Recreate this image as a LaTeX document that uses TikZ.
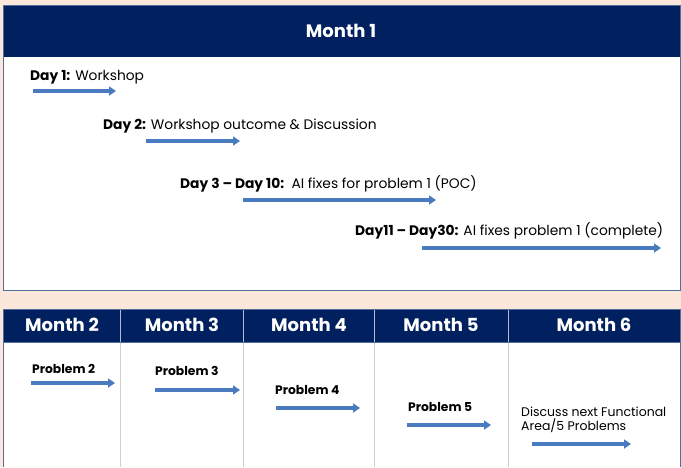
\documentclass[tikz,border=0pt]{standalone}
\usepackage{fontspec}
\setmainfont{Poppins}
\usetikzlibrary{arrows.meta}
\definecolor{peach}{HTML}{FCE8DA}
\definecolor{navy}{HTML}{00205F}
\definecolor{arrowblue}{HTML}{4A7BC0}
\definecolor{boxline}{HTML}{4F6FA0}
\definecolor{gridgray}{HTML}{D0D0D0}
\tikzset{
  x=1pt,y=-1pt,
  hdr/.style={fill=navy,draw=none},
  hdrtext/.style={text=white,font=\fontsize{18}{20}\selectfont\bfseries,anchor=center},
  daytext/.style={anchor=west,inner sep=0pt,font=\fontsize{13.8}{15}\selectfont},
  probtext/.style={anchor=west,inner sep=0pt,font=\fontsize{12.3}{14}\selectfont\bfseries},
  arr/.style={draw=arrowblue,line width=3.2pt,-{Triangle[length=7pt,width=9pt]}},
}
\begin{document}
\begin{tikzpicture}
\useasboundingbox (0,0) rectangle (681,467);
\fill[peach] (0,0) rectangle (681,467);
% top box
\fill[white] (3,5) rectangle (680,290);
\fill[hdr] (3,5) rectangle (680,57);
\draw[boxline,line width=0.8pt] (3,5) rectangle (680,290);
\node[hdrtext] (m1) at (341,31) {Month 1};
% day items
\node[daytext] (d1) at (30,77) {\textbf{Day 1:} Workshop};
\coordinate (d1s) at (33,91); \coordinate (d1e) at (116,91);
\draw[arr] (d1s) -- (d1e);
\node[daytext] (d2) at (103,126) {\textbf{Day 2:} Workshop outcome \& Discussion};
\coordinate (d2s) at (146,141); \coordinate (d2e) at (240,141);
\draw[arr] (d2s) -- (d2e);
\node[daytext] (d3) at (180,184) {\textbf{Day 3 – Day 10:}\ \ AI fixes for problem 1 (POC)};
\coordinate (d3s) at (243,200); \coordinate (d3e) at (436,200);
\draw[arr] (d3s) -- (d3e);
\node[daytext] (d4) at (355,231) {\textbf{Day11 – Day30:} AI fixes problem 1 (complete)};
\coordinate (d4s) at (422,248); \coordinate (d4e) at (661,248);
\draw[arr] (d4s) -- (d4e);
% bottom table
\fill[white] (3,309) rectangle (680,467);
\fill[hdr] (3,309) rectangle (680,342);
\foreach \xx in {120,243,374,508}{
  \draw[gridgray,line width=0.6pt] (\xx,342) -- (\xx,467);
  \draw[white!70!navy,line width=0.6pt] (\xx,309) -- (\xx,342);
}
\draw[boxline,line width=0.8pt] (3,467) -- (3,309) -- (680,309) -- (680,467);
\draw[boxline,line width=0.8pt] (3,342) -- (680,342);
\node[hdrtext] (m2) at (62,325) {Month 2};
\node[hdrtext] (m3) at (182,325) {Month 3};
\node[hdrtext] (m4) at (309,325) {Month 4};
\node[hdrtext] (m5) at (441,325) {Month 5};
\node[hdrtext] (m6) at (594,325) {Month 6};
\node[probtext] (p2) at (32,369) {Problem 2};
\coordinate (p2s) at (31,383); \coordinate (p2e) at (115,383);
\draw[arr] (p2s) -- (p2e);
\node[probtext] (p3) at (155,371) {Problem 3};
\coordinate (p3s) at (155,390); \coordinate (p3e) at (240,390);
\draw[arr] (p3s) -- (p3e);
\node[probtext] (p4) at (275,390) {Problem 4};
\coordinate (p4s) at (276,408); \coordinate (p4e) at (360,408);
\draw[arr] (p4s) -- (p4e);
\node[probtext] (p5) at (408,407) {Problem 5};
\coordinate (p5s) at (407,425); \coordinate (p5e) at (491,425);
\draw[arr] (p5s) -- (p5e);
\node[anchor=west,inner sep=0pt,align=left,font=\fontsize{12.5}{14.5}\selectfont] (p6) at (521,420) {Discuss next Functional\\Area/5 Problems};
\coordinate (p6s) at (532,444); \coordinate (p6e) at (631,444);
\draw[arr] (p6s) -- (p6e);
\end{tikzpicture}
\end{document}
